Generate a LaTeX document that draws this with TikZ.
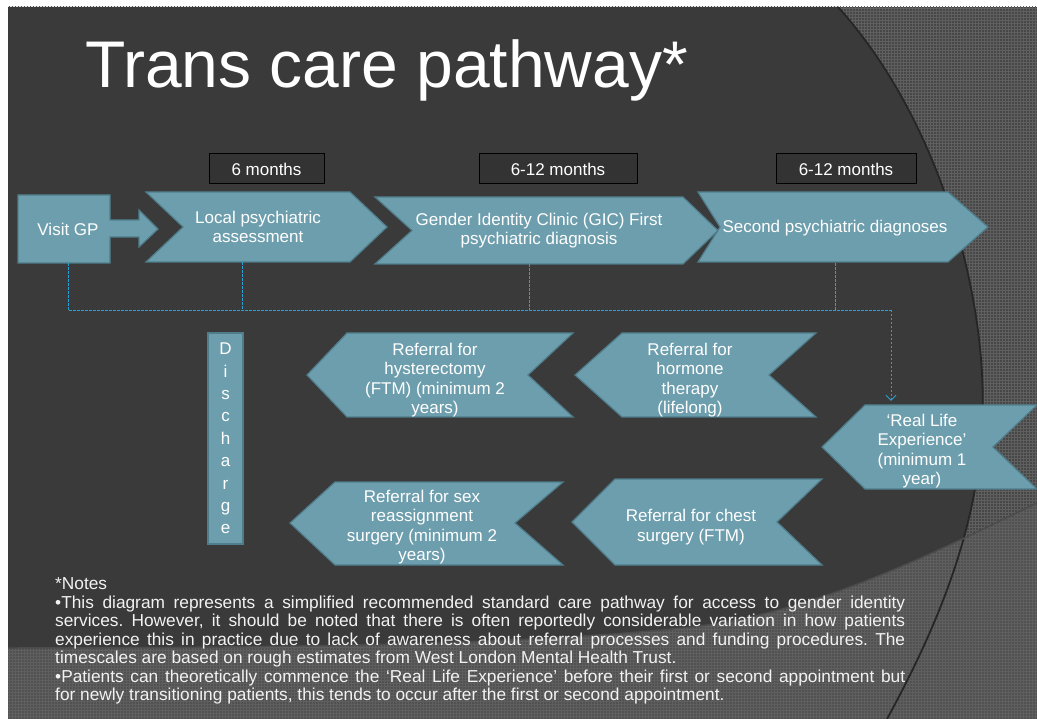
\documentclass[tikz,border=0pt]{standalone}
\usepackage{fontspec}
\setmainfont{Liberation Sans}
\usetikzlibrary{arrows.meta,patterns}

\definecolor{slidedark}{HTML}{3A3A3A}
\definecolor{slidegrey}{HTML}{474747}
\definecolor{slidelight}{HTML}{515151}
\definecolor{texgrey}{HTML}{5F5F5F}
\definecolor{chevfill}{HTML}{6D9EAD}
\definecolor{chevline}{HTML}{4F7D8B}
\definecolor{linkblue}{HTML}{2A9FD6}
\definecolor{boxfill}{HTML}{333333}

\tikzset{
  chev/.style={fill=chevfill, draw=chevline, line width=1.2pt, line join=miter},
  chevtext/.style={text=white, align=center, inner sep=0pt, font=\fontsize{17}{19.5}\selectfont},
  timebox/.style={draw=black, fill=boxfill, line width=1pt, text=white, inner sep=0pt, font=\fontsize{17}{19.5}\selectfont},
  link/.style={draw=linkblue, line width=0.8pt, dash pattern=on 2.5pt off 1.5pt},
}

\begin{document}
\begin{tikzpicture}[x=1pt,y=-1pt]
    \useasboundingbox (0,0) rectangle (1037,719);

    % slide background
    \fill[white] (0,0) rectangle (1037,719);
    \fill[slidegrey] (8,7) rectangle (1037,719);
    \fill[pattern=grid, pattern color=texgrey] (8,7) rectangle (1037,719);
    \fill[slidedark] (8,7) -- (838,7) .. controls (940,120) and (990,300) .. (982,430)
        .. controls (976,540) and (930,640) .. (887,719) -- (8,719) -- cycle;
    \fill[slidelight] (8,648) .. controls (350,648) and (560,642) .. (700,626)
        .. controls (820,610) and (930,555) .. (1037,503) -- (1037,719) -- (8,719) -- cycle;
    \fill[pattern=grid, pattern color=texgrey] (8,648) .. controls (350,648) and (560,642) .. (700,626)
        .. controls (820,610) and (930,555) .. (1037,503) -- (1037,719) -- (8,719) -- cycle;
    \draw[black!85, line width=1.8pt] (838,7) .. controls (940,120) and (990,300) .. (982,430)
        .. controls (976,540) and (930,640) .. (887,719);
    \draw[black!70, line width=1.5pt] (8,648) .. controls (350,648) and (560,642) .. (700,626)
        .. controls (820,610) and (930,555) .. (1037,503);

    \node[anchor=base west, text=white, inner sep=0pt, font=\fontsize{66}{78}\selectfont] (title) at (85,88) {Trans care pathway*};

    % time spans
    \node[timebox, minimum width=115pt, minimum height=30pt] (t1) at (266.5,169) {6 months};
    \node[timebox, minimum width=158pt, minimum height=30pt] (t2) at (558,169) {6-12 months};
    \node[timebox, minimum width=140pt, minimum height=30pt] (t3) at (846,169) {6-12 months};

    % top row
    \draw[chev] (18,195) -- (110,195) -- (110,220) -- (139,220) -- (139,210) -- (158,229) -- (139,247)
        -- (139,237) -- (110,237) -- (110,263) -- (18,263) -- cycle;
    \node[chevtext, minimum height=68pt] (gp) at (68,229) {Visit GP};

    \draw[chev] (146,192) -- (350,192) -- (387,227) -- (350,262) -- (146,262) -- (183,227) -- cycle;
    \node[chevtext, minimum height=70pt] (lpa) at (258,227) {Local psychiatric\\assessment};

    \draw[chev] (375,197) -- (683,197) -- (718,230.5) -- (683,264) -- (375,264) -- (412,230.5) -- cycle;
    \node[chevtext, minimum height=67pt] (gic) at (539,230.5) {Gender Identity Clinic (GIC) First\\psychiatric diagnosis};

    \draw[chev] (698,192) -- (948,192) -- (988,227) -- (948,262) -- (698,262) -- (720,227) -- cycle;
    \node[chevtext, minimum height=70pt] (spd) at (835,228) {Second psychiatric diagnoses};

    % lower rows
    \node[chevtext, draw=chevline, fill=chevfill, line width=1.2pt, minimum width=35pt, minimum height=211pt,
        font=\fontsize{17}{22.4}\selectfont] (dis) at (225.5,438.5) {D\\i\\s\\c\\h\\a\\r\\g\\e};

    \draw[chev] (307,375) -- (347,333) -- (573,333) -- (528,375) -- (573,417) -- (347,417) -- cycle;
    \node[chevtext] (hyst) at (435,380) {Referral for\\hysterectomy\\(FTM) (minimum 2\\years)};

    \draw[chev] (575,375) -- (622,333) -- (816,333) -- (769,375) -- (816,417) -- (622,417) -- cycle;
    \node[chevtext] (horm) at (690,380) {Referral for\\hormone\\therapy\\(lifelong)};

    \draw[chev] (822,447) -- (865,405) -- (1037,405) -- (993,447) -- (1037,489) -- (865,489) -- cycle;
    \node[chevtext, minimum height=84pt] (rle) at (922,451) {‘Real Life\\Experience’\\(minimum 1\\year)};

    \draw[chev] (290,523) -- (335,482) -- (563,482) -- (515,523) -- (563,565) -- (335,565) -- cycle;
    \node[chevtext] (sex) at (422,527) {Referral for sex\\reassignment\\surgery (minimum 2\\years)};

    \draw[chev] (572,522) -- (615,479) -- (822,479) -- (777,522) -- (822,565) -- (615,565) -- cycle;
    \node[chevtext] (chest) at (691,527) {Referral for chest\\surgery (FTM)};

    % dashed links
    \coordinate (bend) at (891,310);
    \draw[link] (gp.south) |- (bend);
    \draw[link] ([xshift=-16pt]lpa.south) -- ([xshift=-16pt]lpa.south |- bend);
    \draw[link] ([xshift=-10pt]gic.south) -- ([xshift=-10pt]gic.south |- bend);
    \draw[link] (spd.south) -- (spd.south |- bend);
    \draw[link, -{Straight Barb[length=5pt, width=10pt]}, shorten >=8pt] (bend) -- (rle.north -| bend);

    % notes
    \node[anchor=north west, text width=850pt, align=justify, inner sep=0pt, text=white!95!black,
        font=\fontsize{17.3}{18.5}\selectfont\frenchspacing] (notes) at (55,577.5) {*Notes\\
        •This diagram represents a simplified recommended standard care pathway for access to gender identity\linebreak
        services. However, it should be noted that there is often reportedly considerable variation in how patients\linebreak
        experience this in practice due to lack of awareness about referral processes and funding procedures. The\linebreak
        timescales are based on rough estimates from West London Mental Health Trust.\\
        •Patients can theoretically commence the ‘Real Life Experience’ before their first or second appointment but\linebreak
        for newly transitioning patients, this tends to occur after the first or second appointment.};
\end{tikzpicture}
\end{document}
